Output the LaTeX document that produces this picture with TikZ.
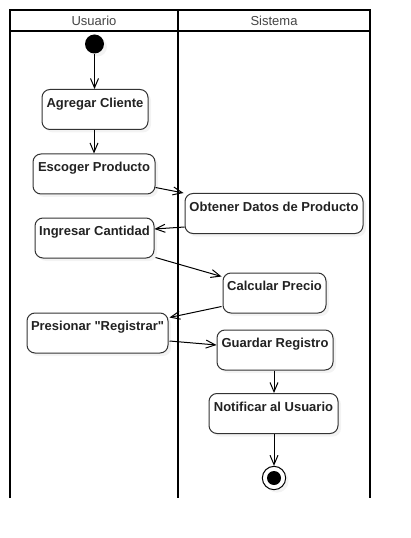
\documentclass[tikz,border=0pt]{standalone}
\usepackage{fontspec}
\setmainfont{Liberation Sans}[Ligatures=TeXOff]
\usetikzlibrary{arrows.meta,shadows,calc}
\definecolor{boxline}{HTML}{333333}
\definecolor{txt}{HTML}{222222}
\definecolor{hdr}{HTML}{444444}
\tikzset{
  lane/.style={line width=1.5pt, black},
  action/.style={draw=boxline, line width=0.75pt, rounded corners=6pt, fill=white,
    minimum height=30pt, inner ysep=0pt, inner xsep=1pt, text height=13.3pt, text depth=16.7pt,
    font=\fontsize{9.75}{11}\selectfont\bfseries, text=txt,
    drop shadow={shadow xshift=2.25pt, shadow yshift=-2.25pt, fill=black!9}},
  flow/.style={line width=0.75pt, black, -{Straight Barb[length=7pt,width=6pt]}},
  hdrtext/.style={font=\fontsize{9.75}{11}\selectfont, text=hdr},
  startnode/.style={circle, fill=black, minimum size=14.25pt, inner sep=0pt,
    drop shadow={shadow xshift=2.25pt, shadow yshift=-2.25pt, fill=black!9}},
  endnode/.style={circle, draw=black, line width=0.75pt, fill=white, minimum size=17.5pt, inner sep=0pt,
    drop shadow={shadow xshift=2.25pt, shadow yshift=-2.25pt, fill=black!9}},
  endcore/.style={circle, fill=black, minimum size=10.5pt, inner sep=0pt},
}
\begin{document}
\begin{tikzpicture}[x=0.75pt, y=-0.75pt]
\useasboundingbox (0,0) rectangle (410,538);
% swimlanes
\draw[lane] (10,498) -- (10,10) -- (370,10) -- (370,498);
\draw[lane] (10,31) -- (370,31);
\draw[lane] (178,10) -- (178,498);
\node[hdrtext] (husr) at (94,21) {Usuario};
\node[hdrtext] (hsys) at (274,21) {Sistema};
% nodes
\node[startnode] (start) at (94.5,44) {};
\node[action, minimum width=79.5pt] (agr) at (95,109.5) {Agregar Cliente};
\node[action, minimum width=91.5pt] (esc) at (94,174) {Escoger Producto};
\node[action, minimum width=133.5pt] (obt) at (274,213.5) {Obtener Datos de Producto};
\node[action, minimum width=89.25pt] (ing) at (94.5,238) {Ingresar Cantidad};
\node[action, minimum width=77.25pt] (cal) at (274.5,293) {Calcular Precio};
\node[action, minimum width=105.75pt] (pre) at (97.5,333) {Presionar "Registrar"};
\node[action, minimum width=87pt] (gua) at (275,350) {Guardar Registro};
\node[action, minimum width=96.75pt] (not) at (273.5,413.5) {Notificar al Usuario};
\node[endnode] (fin) at (274,478) {};
\node[endcore] (fincore) at (fin.center) {};
% flows
\draw[flow] (start.south) -- (start.south |- agr.north);
\draw[flow] (agr.south -| 94,0) -- (esc.north -| 94,0);
\draw[flow] ($(esc.south east)+(0,-7)$) -- ($(obt.north west)+(-1,0)$);
\draw[flow] ($(obt.south west)+(0,-7)$) -- ($(ing.east)+(0,-9)$);
\draw[flow] ($(ing.south east)+(1,-1)$) -- ($(cal.north west)+(-1,4)$);
\draw[flow] ($(cal.south west)+(-1,-7)$) -- ($(pre.north east)+(1,5)$);
\draw[flow] ($(pre.east)+(1,8)$) -- ($(gua.west)+(0,-5)$);
\draw[flow] (gua.south -| 274,0) -- (not.north -| 274,0);
\draw[flow] (not.south -| 274,0) -- (fin.north);
\end{tikzpicture}
\end{document}
